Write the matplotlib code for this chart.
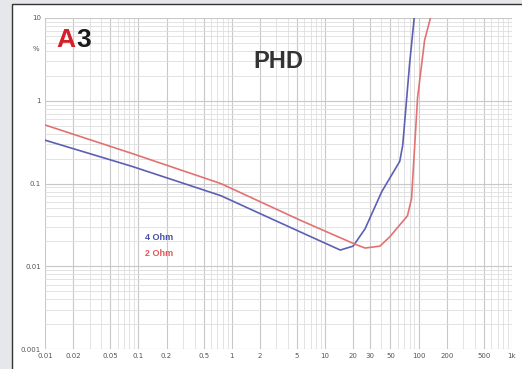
import matplotlib
matplotlib.use("Agg")
import matplotlib.pyplot as plt
import numpy as np
from matplotlib.patches import Rectangle
from matplotlib.ticker import LogLocator, NullFormatter

# frequency (kHz) / THD (%)
freq_4ohm = [0.01, 0.084, 0.76, 5.4, 14.5, 19.9, 26.7, 40.4, 62.8, 67.6, 80, 90.6]
thd_4ohm = [0.334, 0.162, 0.0714, 0.026, 0.0157, 0.0175, 0.0283, 0.08, 0.185, 0.29, 2.75, 11.2]

freq_2ohm = [0.01, 0.084, 0.76, 5.4, 20.8, 26.7, 38.5, 49, 76, 84, 97.5, 116, 137]
thd_2ohm = [0.51, 0.232, 0.1, 0.036, 0.0185, 0.0166, 0.0175, 0.0226, 0.0407, 0.0656, 1.09, 5.4, 11]

xticks = [0.01, 0.02, 0.05, 0.1, 0.2, 0.5, 1, 2, 5, 10, 20, 30, 50, 100, 200, 500, 1000]
xlabels = ["0.01", "0.02", "0.05", "0.1", "0.2", "0.5", "1", "2", "5", "10",
           "20", "30", "50", "100", "200", "500", "1k"]
yticks = [0.001, 0.01, 0.1, 1, 10]
ylabels = ["0.001", "0.01", "0.1", "1", "10"]

W, H = 522, 369
fig = plt.figure(figsize=(W / 100, H / 100), dpi=100)
fig.patch.set_facecolor("#e6e7ea")

# white panel with dark frame
fig.patches.append(Rectangle((12 / W, -0.1), 2, 1.1 - 4 / H, transform=fig.transFigure,
                             facecolor="white", edgecolor="#333333", linewidth=1.0, zorder=-10))

ax = fig.add_axes([45 / W, 1 - 349 / H, 467 / W, 331 / H])
ax.set_zorder(1)
ax.set_facecolor("white")
ax.set_xscale("log")
ax.set_yscale("log")
ax.set_xlim(0.01, 1000)
ax.set_ylim(0.001, 10)

ax.xaxis.set_minor_locator(LogLocator(base=10, subs=np.arange(2, 10)))
ax.yaxis.set_minor_locator(LogLocator(base=10, subs=np.arange(2, 10)))
ax.xaxis.set_minor_formatter(NullFormatter())
ax.yaxis.set_minor_formatter(NullFormatter())
ax.grid(True, which="major", color="#c8c8c8", linewidth=0.8)
ax.grid(True, which="minor", color="#dedede", linewidth=0.6)
ax.set_axisbelow(True)

ax.plot(freq_4ohm, thd_4ohm, color="#5b60b4", linewidth=1.2)
ax.plot(freq_2ohm, thd_2ohm, color="#e27272", linewidth=1.2)

ax.set_xticks(xticks)
ax.set_xticklabels(xlabels)
ax.set_yticks(yticks)
ax.set_yticklabels(ylabels)
ax.tick_params(which="both", length=0, labelsize=5, labelcolor="#555555", pad=3)
for s in ax.spines.values():
    s.set_visible(False)

# unit label
ax.text(-0.012, 4.2, "%", transform=ax.get_yaxis_transform(), ha="right", va="center",
        fontsize=5, color="#555555")

# logo and title
ax.text(56 / W, 1 - 40 / H, "A", transform=fig.transFigure, color="#d4202a", fontsize=19,
        fontweight="heavy", family="Liberation Sans", va="center", ha="left")
ax.text(76 / W, 1 - 40 / H, "3", transform=fig.transFigure, color="#1a1a1a", fontsize=19,
        fontweight="heavy", family="Liberation Sans", va="center", ha="left")
ax.text(278 / W, 1 - 62 / H, "PHD", transform=fig.transFigure, color="#333333", fontsize=17,
        fontweight="bold", family="Liberation Sans", va="center", ha="center")

# legend texts
ax.text(145 / W, 1 - 238 / H, "4 Ohm", transform=fig.transFigure, color="#4a4fa8", fontsize=6.5,
        fontweight="bold", family="Liberation Sans", va="center", ha="left")
ax.text(145 / W, 1 - 254 / H, "2 Ohm", transform=fig.transFigure, color="#e05a5a", fontsize=6.5,
        fontweight="bold", family="Liberation Sans", va="center", ha="left")

fig.savefig("out.png", dpi=100, facecolor=fig.get_facecolor())
